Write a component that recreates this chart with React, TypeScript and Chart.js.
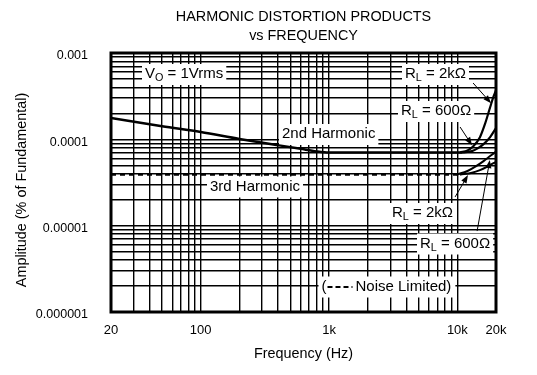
import React, { useEffect, useRef } from "react";
import { Chart, registerables } from "chart.js";

Chart.register(...registerables);

const FONT = '"Liberation Sans", Arial, Helvetica, sans-serif';

// ---- text ----
const TITLE_LINES = ["HARMONIC DISTORTION PRODUCTS", "vs FREQUENCY"];
const X_TITLE = "Frequency (Hz)";
const Y_TITLE = "Amplitude (% of Fundamental)";

// ---- axes ----
const X_MIN = 20;
const X_MAX = 20000;
const Y_MIN = 0.000001;
const Y_MAX = 0.001;
const X_LABEL_VALUES = [20, 100, 1000, 10000, 20000];
const X_LABEL_TEXT = ["20", "100", "1k", "10k", "20k"];
const Y_LABEL_VALUES = [0.001, 0.0001, 0.00001, 0.000001];
const Y_LABEL_TEXT = ["0.001", "0.0001", "0.00001", "0.000001"];

// ---- series ----
const H2_FREQ = [20, 50, 100, 200, 400, 600, 800, 1000, 2000, 5000, 11000];
const H2_AMP = [0.000177, 0.0001415, 0.0001215, 0.000101, 0.0000855, 0.0000776, 0.0000725, 0.0000705, 0.0000705, 0.0000705, 0.0000705];

const H2_600_FREQ = [10500, 12000, 13200, 15000, 16400, 18000, 19000, 20000];
const H2_600_AMP = [0.0000705, 0.0000745, 0.000082, 0.000106, 0.00015, 0.000235, 0.000305, 0.00037];

const H2_2K_FREQ = [11000, 13000, 14500, 16400, 18000, 20000];
const H2_2K_AMP = [0.0000705, 0.000073, 0.000079, 0.000091, 0.000106, 0.000135];

const H3_FREQ = [20, 100, 1000, 10000];
const H3_AMP = [0.000039, 0.000039, 0.000039, 0.000039];

const H3_600_FREQ = [9800, 12000, 14000, 16000, 18000, 20000];
const H3_600_AMP = [0.000039, 0.000043, 0.000049, 0.000056, 0.000064, 0.000072];

const H3_2K_FREQ = [10500, 13000, 15000, 17000, 20000];
const H3_2K_AMP = [0.000039, 0.000041, 0.000044, 0.000048, 0.000055];

// arrows: [fromFreq, fromAmp, toFreq, toAmp]
const ARROWS = [
  [13260, 0.000449, 18300, 0.000262],
  [10500, 0.000139, 13000, 0.0000855],
  [9600, 0.0000215, 12100, 0.0000385],
  [14250, 0.00000866, 17900, 0.0000575],
];

// labels: parts [text, isSubscript]
const LABELS: { parts: [string, boolean][]; x: number; y: number }[] = [
  { parts: [["V", false], ["O", true], [" = 1Vrms", false]], x: 145, y: 74 },
  { parts: [["2nd Harmonic", false]], x: 282, y: 134 },
  { parts: [["3rd Harmonic", false]], x: 210, y: 186.5 },
  { parts: [["R", false], ["L", true], [" = 2kΩ", false]], x: 405, y: 74 },
  { parts: [["R", false], ["L", true], [" = 600Ω", false]], x: 401, y: 111 },
  { parts: [["R", false], ["L", true], [" = 2kΩ", false]], x: 392, y: 213 },
  { parts: [["R", false], ["L", true], [" = 600Ω", false]], x: 420, y: 243.5 },
];

function gridValues(min: number, max: number): number[] {
  const out: number[] = [];
  for (let e = Math.floor(Math.log10(min)); e <= Math.ceil(Math.log10(max)); e++) {
    for (let m = 1; m <= 9; m++) {
      const v = parseFloat((m * Math.pow(10, e)).toPrecision(6));
      if (v >= min * 0.999999 && v <= max * 1.000001) out.push(v);
    }
  }
  return out;
}

function labelFor(v: number, values: number[], texts: string[]): string {
  for (let i = 0; i < values.length; i++) {
    if (Math.abs(v / values[i] - 1) < 1e-6) return texts[i];
  }
  return "";
}

function pts(xs: number[], ys: number[]) {
  return xs.map((x, i) => ({ x, y: ys[i] }));
}

const LABEL_SIZE = 15;

function drawRich(ctx: CanvasRenderingContext2D, parts: [string, boolean][], x: number, y: number) {
  const items = parts.map(([t, sub]) => {
    ctx.font = `${sub ? LABEL_SIZE * 0.72 : LABEL_SIZE}px ${FONT}`;
    return { t, sub, w: ctx.measureText(t).width };
  });
  const w = items.reduce((a, b) => a + b.w, 0);
  ctx.fillStyle = "#fff";
  ctx.fillRect(x - 3, y - 10, w + 6, 21);
  ctx.fillStyle = "#000";
  ctx.textAlign = "left";
  ctx.textBaseline = "middle";
  let cx = x;
  for (const it of items) {
    ctx.font = `${it.sub ? LABEL_SIZE * 0.72 : LABEL_SIZE}px ${FONT}`;
    ctx.fillText(it.t, cx, it.sub ? y + 4.5 : y);
    cx += it.w;
  }
}

const overlay = {
  id: "overlay",
  beforeDatasetsDraw(chart: any) {
    const ctx: CanvasRenderingContext2D = chart.ctx;
    ctx.save();
    for (const l of LABELS) drawRich(ctx, l.parts, l.x, l.y);
    // noise limited legend
    const nx = 321.5, ny = 286.5;
    ctx.font = `${LABEL_SIZE}px ${FONT}`;
    const t2 = "Noise Limited)";
    const w1 = ctx.measureText("(").width;
    const w2 = ctx.measureText(t2).width;
    const dashLen = 25;
    const total = w1 + 2 + dashLen + 3 + w2;
    ctx.fillStyle = "#fff";
    ctx.fillRect(nx - 3, ny - 10, total + 6, 21);
    ctx.fillStyle = "#000";
    ctx.textAlign = "left";
    ctx.textBaseline = "middle";
    ctx.fillText("(", nx, ny);
    ctx.strokeStyle = "#000";
    ctx.lineWidth = 2;
    ctx.setLineDash([5, 3]);
    ctx.beginPath();
    ctx.moveTo(nx + w1 + 1, ny + 0.5);
    ctx.lineTo(nx + w1 + 1 + dashLen, ny + 0.5);
    ctx.stroke();
    ctx.setLineDash([]);
    ctx.fillText(t2, nx + w1 + 4 + dashLen, ny);
    ctx.restore();
  },
  afterDatasetsDraw(chart: any) {
    const ctx: CanvasRenderingContext2D = chart.ctx;
    const xs = chart.scales.x;
    const ys = chart.scales.y;
    const a = chart.chartArea;
    ctx.save();
    // arrows
    ctx.strokeStyle = "#000";
    ctx.fillStyle = "#000";
    ctx.lineWidth = 1;
    for (const [f1, v1, f2, v2] of ARROWS) {
      const x1 = xs.getPixelForValue(f1), y1 = ys.getPixelForValue(v1);
      const x2 = xs.getPixelForValue(f2), y2 = ys.getPixelForValue(v2);
      const ang = Math.atan2(y2 - y1, x2 - x1);
      const L = 8, W = 3;
      ctx.beginPath();
      ctx.moveTo(x1, y1);
      ctx.lineTo(x2 - Math.cos(ang) * L * 0.8, y2 - Math.sin(ang) * L * 0.8);
      ctx.stroke();
      ctx.beginPath();
      ctx.moveTo(x2, y2);
      ctx.lineTo(x2 - Math.cos(ang) * L - Math.sin(ang) * W, y2 - Math.sin(ang) * L + Math.cos(ang) * W);
      ctx.lineTo(x2 - Math.cos(ang) * L + Math.sin(ang) * W, y2 - Math.sin(ang) * L - Math.cos(ang) * W);
      ctx.closePath();
      ctx.fill();
    }
    // frame
    ctx.lineWidth = 3;
    ctx.strokeRect(a.left, a.top, a.right - a.left, a.bottom - a.top);
    ctx.restore();
  },
  afterDraw(chart: any) {
    const ctx: CanvasRenderingContext2D = chart.ctx;
    const a = chart.chartArea;
    const cx = (a.left + a.right) / 2;
    ctx.save();
    ctx.fillStyle = "#000";
    ctx.textAlign = "center";
    ctx.textBaseline = "middle";
    ctx.font = `14.4px ${FONT}`;
    ctx.fillText(TITLE_LINES[0], cx, 17);
    ctx.fillText(TITLE_LINES[1], cx, 36);
    ctx.font = `14.4px ${FONT}`;
    ctx.fillText(X_TITLE, cx, 354);
    ctx.translate(22, 190);
    ctx.rotate(-Math.PI / 2);
    ctx.fillText(Y_TITLE, 0, 0);
    ctx.restore();
  },
};

export default function App() {
  const ref = useRef<HTMLCanvasElement | null>(null);
  useEffect(() => {
    document.body.style.margin = "0";
    const canvas = ref.current!;
    const xGrid = gridValues(X_MIN, X_MAX);
    const yGrid = gridValues(Y_MIN, Y_MAX);
    const line = (data: any, width: number, dash: number[] = []) => ({
      data,
      borderColor: "#000",
      borderWidth: width,
      borderDash: dash,
      pointRadius: 0,
      fill: false,
      cubicInterpolationMode: "monotone" as const,
    });
    const chart = new Chart(canvas, {
      type: "line",
      data: {
        datasets: [
          line(pts(H2_FREQ, H2_AMP), 2.5),
          line(pts(H2_600_FREQ, H2_600_AMP), 2.2),
          line(pts(H2_2K_FREQ, H2_2K_AMP), 2.2),
          line(pts(H3_FREQ, H3_AMP), 2, [5, 4]),
          line(pts(H3_600_FREQ, H3_600_AMP), 2),
          line(pts(H3_2K_FREQ, H3_2K_AMP), 2),
        ],
      },
      options: {
        animation: false,
        responsive: false,
        devicePixelRatio: 1,
        layout: { padding: { top: 53, right: 41, left: 0, bottom: 0 } },
        plugins: { legend: { display: false }, tooltip: { enabled: false }, title: { display: false } },
        scales: {
          x: {
            type: "logarithmic",
            min: X_MIN,
            max: X_MAX,
            afterBuildTicks: (s: any) => {
              s.ticks = xGrid.map((v) => ({ value: v }));
            },
            afterFit: (s: any) => {
              s.height = 63;
            },
            ticks: {
              autoSkip: false,
              maxRotation: 0,
              color: "#000",
              padding: 11,
              font: { size: 13, family: FONT },
              callback: (v: any) => labelFor(Number(v), X_LABEL_VALUES, X_LABEL_TEXT),
            },
            grid: { color: "#000", lineWidth: 1.4, drawTicks: false },
            border: { display: false },
          },
          y: {
            type: "logarithmic",
            min: Y_MIN,
            max: Y_MAX,
            afterBuildTicks: (s: any) => {
              s.ticks = yGrid.map((v) => ({ value: v }));
            },
            afterFit: (s: any) => {
              s.width = 111;
            },
            ticks: {
              autoSkip: false,
              color: "#000",
              padding: 23,
              labelOffset: 3,
              font: { size: 12.5, family: FONT },
              callback: (v: any) => labelFor(Number(v), Y_LABEL_VALUES, Y_LABEL_TEXT),
            },
            grid: { color: "#000", lineWidth: 1.4, drawTicks: false },
            border: { display: false },
          },
        },
      },
      plugins: [overlay],
    });
    return () => chart.destroy();
  }, []);
  return <canvas ref={ref} width={537} height={375} style={{ display: "block" }} />;
}
